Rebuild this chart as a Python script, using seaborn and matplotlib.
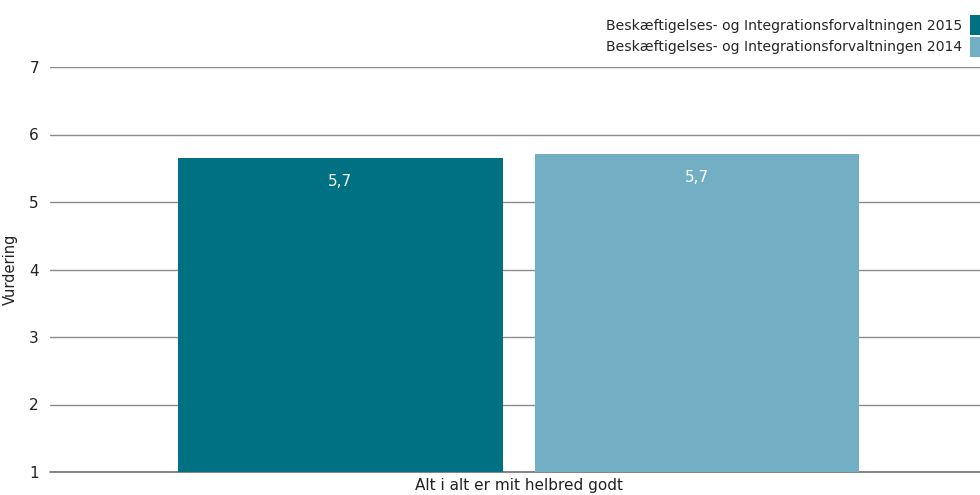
import pandas as pd
import numpy as np
import seaborn as sns
import matplotlib.pyplot as plt

sns.set_theme(style="white")
plt.rcParams['font.family'] = ['DejaVu Sans']

# data
categories = ['Alt i alt er mit helbred godt']
series = ['Beskæftigelses- og Integrationsforvaltningen 2015',
          'Beskæftigelses- og Integrationsforvaltningen 2014']
values = [5.65, 5.71]
value_labels = ['5,7', '5,7']
colors = ['#007183', '#72AFC4']

df = pd.DataFrame({'kategori': categories * len(series),
                   'serie': series,
                   'vurdering': values})

fig = plt.figure(figsize=(9.8, 4.95), dpi=100)
ax = fig.add_axes([50/980, 1-472/495, 930/980, (472-67)/495])

sns.barplot(data=df, x='kategori', y='vurdering', hue='serie',
            palette=colors, width=0.8, gap=0.09, saturation=1,
            linewidth=0, ax=ax, zorder=3)

ax.set_ylim(1, 7)
ax.set_xlim(-0.526, 0.518)
ax.set_yticks(range(1, 8))
ax.yaxis.grid(True, color='#8c8c8c', linewidth=1)
ax.axhline(1, color='#707070', linewidth=1.2, zorder=2, clip_on=False)
ax.set_axisbelow(True)
for s in ax.spines.values():
    s.set_visible(False)
ax.tick_params(axis='both', length=0, labelsize=11, colors='#222222', pad=8)
ax.tick_params(axis='x', pad=4)
ax.set_xlabel('')
ax.set_ylabel('Vurdering', fontsize=10.5, color='#222222', labelpad=8)

for cont, lab in zip(ax.containers, value_labels):
    ax.bar_label(cont, labels=[lab], padding=-22, color='white', fontsize=11)

handles, labels = ax.get_legend_handles_labels()
ax.legend(handles, labels, loc='lower right', bbox_to_anchor=(1.0043, 1.025),
          frameon=False, markerfirst=False, fontsize=10.1,
          handlelength=1.0, handleheight=1.8, handletextpad=0.57,
          labelspacing=0.12, borderaxespad=0.0, borderpad=0.0)

fig.savefig('out.png', dpi=100)
